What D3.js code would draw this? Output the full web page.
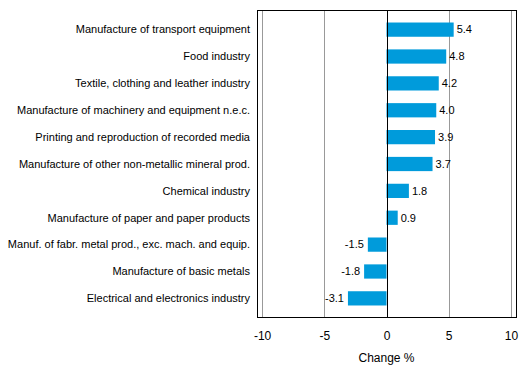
<!DOCTYPE html>
<html><head><meta charset="utf-8">
<script src="https://cdn.jsdelivr.net/npm/d3@7"></script>
<style>body{margin:0;background:#fff;} text{font-family:"Liberation Sans",Arial,sans-serif;fill:#000;}</style>
</head><body>
<svg id="c" width="529" height="377"></svg>
<script>
const categories = [
  "Manufacture of transport equipment",
  "Food industry",
  "Textile, clothing and leather industry",
  "Manufacture of machinery and equipment n.e.c.",
  "Printing and reproduction of recorded media",
  "Manufacture of other non-metallic mineral prod.",
  "Chemical industry",
  "Manufacture of paper and paper products",
  "Manuf. of fabr. metal prod., exc. mach. and equip.",
  "Manufacture of basic metals",
  "Electrical and electronics industry"
];
const values = [5.4, 4.8, 4.2, 4.0, 3.9, 3.7, 1.8, 0.9, -1.5, -1.8, -3.1];
const xTicks = [-10, -5, 0, 5, 10];
const xTitle = "Change %";

const svg = d3.select("#c");
const L = 257.5, R = 516.5, T = 10.5, B = 317.5;
const x = d3.scaleLinear().domain([-10.37, 10.45]).range([L, R]);
const y = d3.scaleBand().domain(categories).range([T + 5.7, B - 5.7]).paddingInner(0.47).paddingOuter(0.235);

// gridlines
svg.append("g").selectAll("line").data(xTicks.filter(d => d !== 0)).join("line")
  .attr("x1", d => Math.round(x(d)) + 0.5).attr("x2", d => Math.round(x(d)) + 0.5)
  .attr("y1", T).attr("y2", B).attr("stroke", "#999").attr("stroke-width", 1);

// bars
svg.append("g").selectAll("rect").data(values).join("rect")
  .attr("x", d => x(Math.min(0, d)))
  .attr("width", d => Math.abs(x(d) - x(0)))
  .attr("y", (d, i) => y(categories[i]))
  .attr("height", y.bandwidth())
  .attr("fill", "#009bdb");

// zero line
svg.append("line").attr("x1", Math.round(x(0)) + 0.5).attr("x2", Math.round(x(0)) + 0.5)
  .attr("y1", T).attr("y2", B).attr("stroke", "#000");

// frame
svg.append("rect").attr("x", L).attr("y", T).attr("width", R - L).attr("height", B - T)
  .attr("fill", "none").attr("stroke", "#000").attr("stroke-width", 1);

// value labels
svg.append("g").selectAll("text").data(values).join("text")
  .attr("x", d => d >= 0 ? x(d) + 3 : x(d) - 4)
  .attr("y", (d, i) => y(categories[i]) + y.bandwidth() / 2)
  .attr("dy", "0.35em")
  .attr("text-anchor", d => d >= 0 ? "start" : "end")
  .attr("font-size", 11)
  .text(d => (d < 0 ? "-" : "") + Math.abs(d).toFixed(1));

// category labels
svg.append("g").selectAll("text").data(categories).join("text")
  .attr("x", 250).attr("y", d => y(d) + y.bandwidth() / 2).attr("dy", "0.35em")
  .attr("text-anchor", "end").attr("font-size", 11).text(d => d);

// x axis
const ax = svg.append("g").attr("transform", `translate(0,${B})`)
  .call(d3.axisBottom(x).tickValues(xTicks).tickSize(0).tickPadding(14)
    .tickFormat(d => (d < 0 ? "-" : "") + Math.abs(d)));
ax.select(".domain").remove();
ax.selectAll("text").attr("font-size", 12).style("font-family", '"Liberation Sans",Arial,sans-serif');

svg.append("text").attr("x", x(0)).attr("y", 361.5).attr("text-anchor", "middle")
  .attr("font-size", 12).text(xTitle);
</script>
</body></html>
